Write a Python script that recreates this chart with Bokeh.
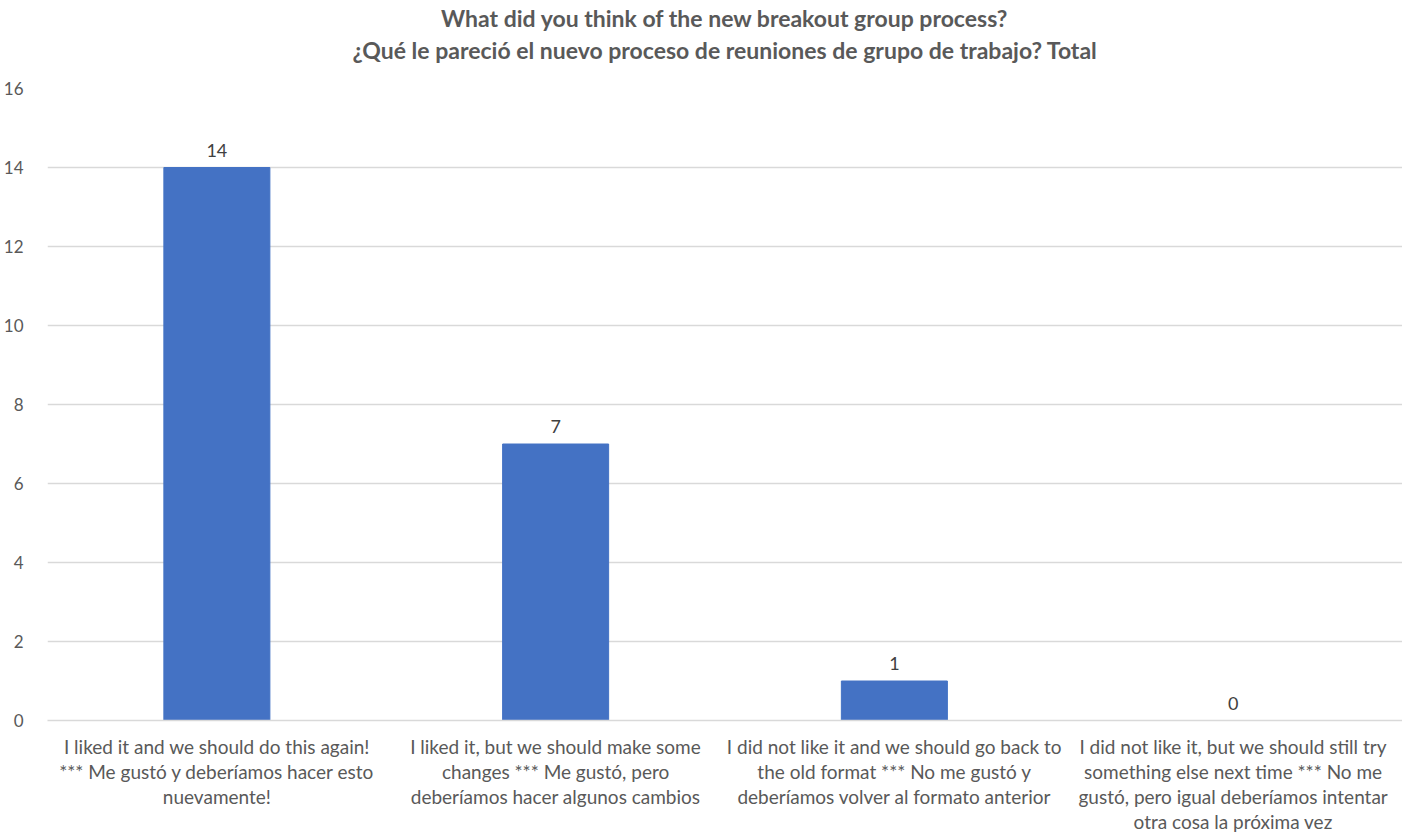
from bokeh.plotting import figure
from bokeh.models import ColumnDataSource, Title, FactorRange, Range1d, SingleIntervalTicker, LabelSet
from bokeh.core.properties import value
from bokeh.embed import file_html
from bokeh.resources import INLINE

categories = [
    "I liked it and we should do this again!\n*** Me gustó y deberíamos hacer esto\nnuevamente!",
    "I liked it, but we should make some\nchanges *** Me gustó, pero\ndeberíamos hacer algunos cambios",
    "I did not like it and we should go back to\nthe old format *** No me gustó y\ndeberíamos volver al formato anterior",
    "I did not like it, but we should still try\nsomething else next time *** No me\ngustó, pero igual deberíamos intentar\notra cosa la próxima vez",
]
values = [14, 7, 1, 0]
title1 = "What did you think of the new breakout group process?"
title2 = "¿Qué le pareció el nuevo proceso de reuniones de grupo de trabajo? Total"

FONT = "Lato"

src = ColumnDataSource(dict(cat=categories, val=values, txt=[str(v) for v in values]))

p = figure(frame_width=1355, frame_height=632, x_range=FactorRange(*categories), y_range=Range1d(0, 16),
           output_backend="svg", toolbar_location=None, title=None,
           min_border_left=42, min_border_right=0, min_border_bottom=0, min_border_top=0)

# spacer between the frame and the two title lines
p.add_layout(Title(text=" ", text_font_size="1px", standoff=21), "above")
p.add_layout(Title(text=title2, align="center", text_font=FONT, text_font_size="23px",
                   text_font_style="bold", text_color="#595959", standoff=2), "above")
p.add_layout(Title(text=title1, align="center", text_font=FONT, text_font_size="23px",
                   text_font_style="bold", text_color="#595959", standoff=2), "above")

p.vbar(x="cat", top="val", width=0.313, source=src, color="#4472C4")

p.add_layout(LabelSet(x="cat", y="val", text="txt", source=src, y_offset=11,
                      text_align="center", text_baseline="bottom", text_font=value(FONT),
                      text_font_size="18px", text_color="#404040"))

p.outline_line_color = None
p.xgrid.grid_line_color = None
p.ygrid.grid_line_color = "#d9d9d9"
p.ygrid.grid_line_width = 1.5
p.yaxis.ticker = SingleIntervalTicker(interval=2)
p.yaxis.axis_line_color = None
p.yaxis.major_tick_line_color = None
p.yaxis.minor_tick_line_color = None
p.yaxis.major_label_text_font = FONT
p.yaxis.major_label_text_font_size = "17px"
p.yaxis.major_label_text_color = "#595959"
p.yaxis.major_label_standoff = 18

p.xaxis.axis_line_color = "#d9d9d9"
p.xaxis.axis_line_width = 1.5
p.xaxis.major_tick_line_color = None
p.xaxis.minor_tick_line_color = None
p.xaxis.major_label_text_font = FONT
p.xaxis.major_label_text_font_size = "19px"
p.xaxis.major_label_text_color = "#595959"
p.xaxis.major_label_text_line_height = 1.09
p.xaxis.major_label_standoff = 8
p.xaxis.major_label_orientation = "horizontal"
p.x_range.range_padding = 0
p.x_range.group_padding = 0

open("out.html", "w").write(file_html(p, INLINE))
